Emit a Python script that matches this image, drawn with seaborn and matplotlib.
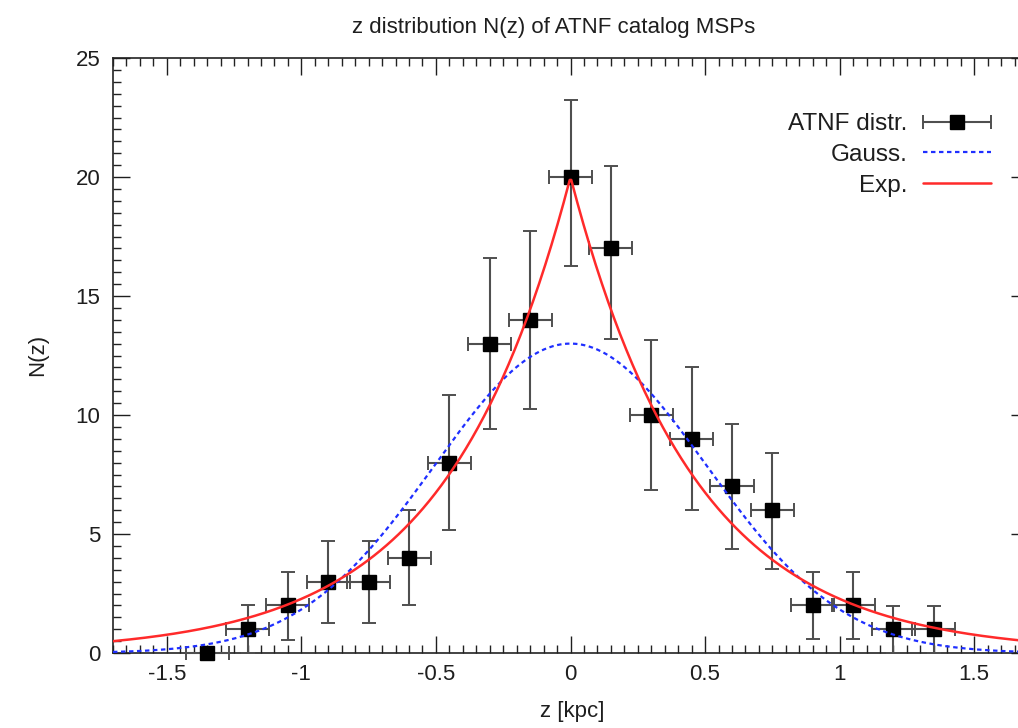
import numpy as np
import pandas as pd
import matplotlib
matplotlib.use("Agg")
import matplotlib.pyplot as plt
import seaborn as sns
from matplotlib.legend_handler import HandlerErrorbar
from matplotlib.ticker import MultipleLocator

# ---------------- data ----------------
z_centers = [-1.35, -1.2, -1.05, -0.9, -0.75, -0.6, -0.45, -0.3, -0.15, 0.0,
             0.15, 0.3, 0.45, 0.6, 0.75, 0.9, 1.05, 1.2, 1.35]
counts = [0, 1, 2, 3, 3, 4, 8, 13, 14, 20, 17, 10, 9, 7, 6, 2, 2, 1, 1]
err_low = [0, 1, 1.45, 1.73, 1.73, 2.0, 2.83, 3.6, 3.74, 3.75, 3.8,
           3.16, 3.0, 2.65, 2.45, 1.43, 1.43, 1.0, 1.0]
err_high = [0, 1, 1.4, 1.7, 1.7, 2.0, 2.85, 3.6, 3.72, 3.25, 3.45,
            3.16, 3.0, 2.62, 2.42, 1.4, 1.4, 0.98, 0.98]
z_halfwidth = [0.08] * len(z_centers)

# fitted model parameters
gauss_amp, gauss_sigma = 13.0, 0.505
exp_amp, exp_scale = 20.0, 0.46

x_min, x_max = -1.7, 1.7
y_min, y_max = 0, 25
x_ticks = [-1.5, -1, -0.5, 0, 0.5, 1, 1.5]
x_ticklabels = ["-1.5", "-1", "-0.5", "0", "0.5", "1", "1.5"]
y_ticks = [0, 5, 10, 15, 20, 25]
y_ticklabels = ["0", "5", "10", "15", "20", "25"]

title = "z distribution N(z) of ATNF catalog MSPs"
xlabel = "z [kpc]"
ylabel = "N(z)"

# ---------------- style ----------------
sns.set_theme(style="ticks")
plt.rcParams["font.family"] = ["Liberation Sans", "DejaVu Sans"]
FS = 16
LFS = 17.5
TXT = "#1e1e1e"

W, H = 1018, 728
fig = plt.figure(figsize=(W / 100, H / 100), dpi=100)
fig.patch.set_facecolor("white")
ax = fig.add_axes([113 / W, 75 / H, 915 / W, 595 / H])
ax.set_facecolor("white")

# model curves
zz = np.linspace(x_min, x_max, 600)
curves = pd.DataFrame({
    "z": zz,
    "gauss": gauss_amp * np.exp(-zz ** 2 / (2 * gauss_sigma ** 2)),
    "exp": exp_amp * np.exp(-np.abs(zz) / exp_scale),
})

# data with error bars
eb = ax.errorbar(z_centers, counts, yerr=[err_low, err_high], xerr=z_halfwidth,
                 fmt="s", color="black", ms=9.5, ecolor="#4f4f4f", elinewidth=1.5,
                 capsize=5, capthick=1.4, label="ATNF distr.", zorder=3, clip_on=False)

sns.lineplot(data=curves, x="z", y="gauss", ax=ax, color="#1f2fff",
             linestyle=(0, (2.0, 1.6)), linewidth=1.6, label="Gauss.", zorder=4)
sns.lineplot(data=curves, x="z", y="exp", ax=ax, color="#ff2a2a",
             linewidth=1.8, label="Exp.", zorder=5)

ax.set_xlim(x_min, x_max)
ax.set_ylim(y_min, y_max)
ax.set_xticks(x_ticks)
ax.set_xticklabels(x_ticklabels)
ax.set_yticks(y_ticks)
ax.set_yticklabels(y_ticklabels)
ax.xaxis.set_minor_locator(MultipleLocator(0.05))
ax.yaxis.set_minor_locator(MultipleLocator(0.5))
ax.tick_params(which="both", direction="in", top=True, right=True,
               color="#222222", width=1.0)
ax.tick_params(which="major", length=12, labelsize=FS, colors=TXT)
ax.tick_params(axis="x", which="major", pad=8)
ax.tick_params(axis="y", which="major", pad=9)
ax.tick_params(which="minor", length=6)
for sp in ax.spines.values():
    sp.set_visible(True)
    sp.set_color("#222222")
    sp.set_linewidth(1.2)

ax.set_xlabel("")
ax.set_ylabel("")
fig.text(572 / W, 1 - 712 / H, xlabel, ha="center", va="center", fontsize=FS, color=TXT)
fig.text(38 / W, 1 - 355 / H, ylabel, ha="center", va="center", rotation=90,
         fontsize=FS, color=TXT)
fig.text(554 / W, 1 - 27 / H, title, ha="center", va="center", fontsize=FS, color=TXT)

# legend (gnuplot style: right-aligned text, sample on the right)
handles, labels = ax.get_legend_handles_labels()
order = [labels.index(l) for l in ["ATNF distr.", "Gauss.", "Exp."]]
handles = [handles[i] for i in order]
labels = [labels[i] for i in order]
hl = 2.8
leg = ax.legend(handles, labels, loc="upper right", frameon=False,
                bbox_to_anchor=(991 / W, 1 - 113 / H), bbox_transform=fig.transFigure,
                markerfirst=False, fontsize=LFS, handlelength=hl, handletextpad=0.62,
                labelspacing=0.36, borderpad=0, borderaxespad=0, numpoints=1,
                handler_map={type(eb): HandlerErrorbar(xerr_size=hl / 2, yerr_size=0.0)})
for t in leg.get_texts():
    t.set_color(TXT)

fig.savefig("out.png", dpi=100, facecolor="white")
